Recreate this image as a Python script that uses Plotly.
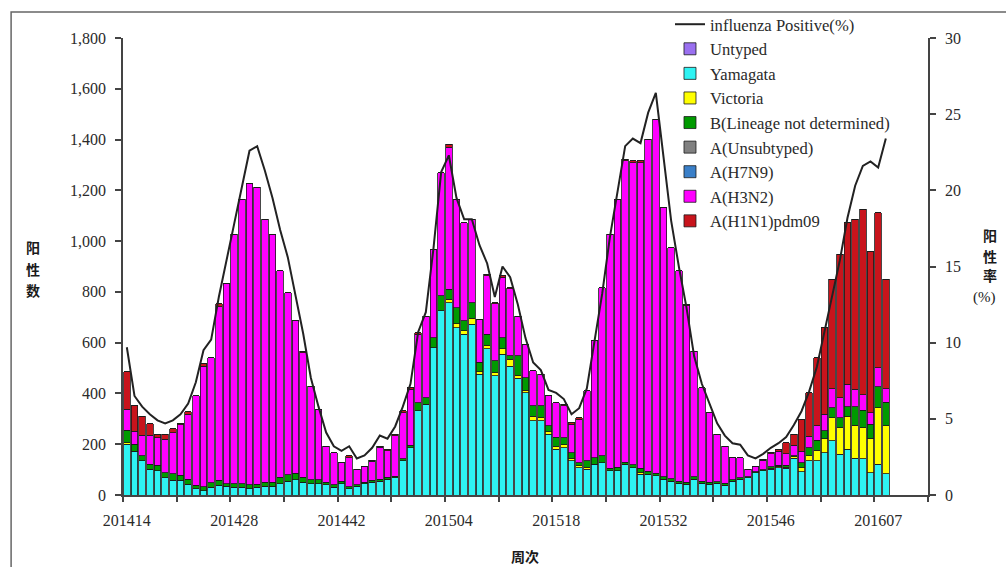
import plotly.graph_objects as go

# ---- data (weeks 201414 .. 201608, axis extends to 201613) ----
def week_labels():
    out = []
    for w in range(14, 53):
        out.append(f"2014{w:02d}")
    for w in range(1, 54):
        out.append(f"2015{w:02d}")
    for w in range(1, 14):
        out.append(f"2016{w:02d}")
    return out

weeks = week_labels()          # 105 categories
n_data = 100                   # weeks with data (201414..201608)

yamagata = [200,173,134,102,95,68,59,59,43,24,16,31,39,35,30,30,25,30,35,35,
            45,55,60,50,45,45,40,30,45,25,35,45,50,55,63,68,134,186,331,357,
            580,725,758,659,633,673,475,576,469,554,508,460,403,292,292,239,180,186,134,108,
            101,121,127,95,95,121,108,82,82,75,63,55,47,43,63,47,43,47,39,55,
            63,67,88,95,101,108,105,145,92,134,134,167,214,160,180,145,142,88,122,83]
victoria = [5,0,0,0,0,0,0,0,0,0,0,0,0,0,0,0,0,0,0,0,
            0,0,0,0,0,0,0,0,0,0,0,0,0,0,0,0,0,0,0,0,
            0,0,14,15,13,24,10,13,13,22,27,12,10,19,14,10,12,12,10,8,
            8,0,0,0,0,0,0,8,0,0,0,0,0,0,0,0,0,0,0,0,
            0,0,0,0,5,5,5,5,16,20,42,55,90,105,131,130,123,135,222,190]
b_nd = [50,27,20,20,23,20,24,19,20,15,17,17,20,10,15,15,15,12,15,15,
        25,25,25,20,15,15,10,10,10,8,6,6,8,8,6,5,8,10,33,26,
        40,59,38,64,40,61,37,44,46,44,13,76,49,40,45,23,36,28,23,11,
        25,25,27,10,15,8,12,15,12,10,8,10,8,8,8,8,8,6,8,5,
        5,5,4,4,5,5,8,5,19,32,40,32,40,39,36,72,69,55,82,92]
a_unsub = [0] * n_data
h7n9 = [0] * n_data
h3n2 = [83,52,82,114,108,132,163,198,256,351,475,493,682,790,983,1120,1185,1170,1036,977,
        813,717,601,490,369,278,143,127,72,113,60,63,74,125,106,160,182,220,270,322,
        348,486,560,427,387,328,170,230,225,238,264,157,132,138,125,118,136,126,112,172,
        276,461,663,922,1055,1187,1189,1204,1307,1395,1061,909,828,694,496,368,273,186,146,87,
        79,29,22,38,52,55,45,40,46,45,56,64,75,79,89,69,60,46,75,54]
h1n1 = [148,99,75,45,14,20,14,6,8,0,8,0,13,0,0,0,0,0,0,0,
        0,0,0,7,0,0,0,0,0,8,0,0,5,5,5,6,7,7,5,0,
        0,0,12,0,0,0,0,7,5,5,5,0,0,0,0,0,0,5,6,6,
        0,0,0,0,0,7,7,7,0,0,0,0,0,6,0,0,0,0,0,0,
        0,0,0,4,5,7,43,44,125,172,269,341,431,565,637,670,732,637,611,431]
untyped = [0] * n_data
positive_pct = [9.7,6.5,5.8,5.3,4.9,4.7,4.9,5.3,6.0,7.4,9.5,10.2,13.0,15.5,17.8,20.2,22.6,22.9,21.3,19.5,
                17.4,15.6,13.0,10.6,7.7,5.8,4.1,3.2,2.9,3.2,2.4,2.6,3.1,3.9,3.7,4.5,5.8,7.3,10.7,12.0,
                16.2,21.2,22.3,19.5,18.1,18.1,16.4,15.2,13.0,15.0,14.3,12.5,10.3,8.7,8.2,6.9,6.7,6.3,5.3,5.7,
                7.0,10.0,13.2,16.9,20.0,22.9,23.4,23.1,25.1,26.4,22.2,18.0,15.0,12.3,9.1,7.3,6.0,4.7,3.9,3.4,
                3.3,2.6,2.4,2.7,3.1,3.4,3.8,4.6,5.5,6.8,8.4,10.8,13.2,15.4,18.2,20.3,21.6,21.9,21.5,23.4]

tick_labels = ["201414", "201428", "201442", "201504", "201518", "201532", "201546", "201607"]

# ---- figure ----
x_idx = list(range(n_data))
tick_idx = [weeks.index(t) for t in tick_labels]

series = [
    ("Yamagata", yamagata, "#2EF3F3", 3),
    ("Victoria", victoria, "#FFFF00", 4),
    ("B(Lineage not determined)", b_nd, "#009A00", 5),
    ("A(Unsubtyped)", a_unsub, "#808080", 6),
    ("A(H7N9)", h7n9, "#3A7FC8", 7),
    ("A(H3N2)", h3n2, "#FF00FF", 8),
    ("A(H1N1)pdm09", h1n1, "#C8141C", 9),
    ("Untyped", untyped, "#9A70F0", 2),
]

fig = go.Figure()
for name, vals, color, rank in series:
    fig.add_trace(go.Bar(
        x=x_idx, y=vals, name=name, legendrank=rank,
        marker=dict(color=color, line=dict(color="#1a1a1a", width=0.8)),
        yaxis="y",
    ))

fig.add_trace(go.Scatter(
    x=x_idx, y=positive_pct, name="influenza Positive(%)", legendrank=1,
    mode="lines", line=dict(color="#222222", width=2), yaxis="y2",
))

serif = "Liberation Serif, Times New Roman, serif"
cjk = "Noto Sans CJK SC"
txt = "#2a2a2a"

fig.update_layout(
    width=1006, height=567,
    margin=dict(l=123, r=78, t=38, b=72, autoexpand=False),
    paper_bgcolor="white", plot_bgcolor="white",
    barmode="stack", bargap=0.14,
    font=dict(family=serif, size=15, color=txt),
    showlegend=True,
    legend=dict(
        x=0.6795, y=1.068, xanchor="left", yanchor="top",
        bgcolor="rgba(255,255,255,0)", font=dict(family=serif, size=16.6, color=txt),
        traceorder="normal", itemwidth=30,
    ),
    xaxis=dict(
        range=[-0.5, len(weeks) - 0.5],
        tickmode="array", tickvals=tick_idx, ticktext=tick_labels,
        ticks="", showline=True, linecolor="#444444", linewidth=1.5,
        showgrid=False, zeroline=False, automargin=False,
        tickfont=dict(family=serif, size=16, color=txt),
        ticklabelstandoff=10,
        minor=dict(ticks="outside", tickmode="linear", tick0=-0.5, dtick=7,
                   ticklen=5, tickcolor="#444444", tickwidth=1.5, showgrid=False),
    ),
    yaxis=dict(
        range=[0, 1800], dtick=200, tickformat=",d",
        ticks="outside", ticklen=6, tickcolor="#444444", tickwidth=1.5,
        showline=True, linecolor="#444444", linewidth=1.5,
        showgrid=False, zeroline=False, automargin=False,
        tickfont=dict(family=serif, size=16, color=txt),
        ticklabelstandoff=6,
    ),
    yaxis2=dict(
        range=[0, 30], dtick=5, overlaying="y", side="right",
        ticks="outside", ticklen=6, tickcolor="#444444", tickwidth=1.5,
        showline=True, linecolor="#444444", linewidth=1.5,
        showgrid=False, zeroline=False, automargin=False,
        tickfont=dict(family=serif, size=16, color=txt),
        ticklabelstandoff=6,
    ),
)

cjk_font = dict(family=cjk, size=14, color="#1a1a1a", weight="bold")
annotations = []
for ch, yv in zip("阳性数", [0.5417, 0.4956, 0.4496]):
    annotations.append(dict(text=ch, x=-0.1118, y=yv, font=cjk_font))
for ch, yv in zip("阳性率", [0.568, 0.524, 0.482]):
    annotations.append(dict(text=ch, x=1.077, y=yv, font=cjk_font))
annotations.append(dict(text="(%)", x=1.0708, y=0.432,
                        font=dict(family=serif, size=15, color="#1a1a1a")))
annotations.append(dict(text="周次", x=0.4994, y=-0.134, font=cjk_font))
for a in annotations:
    fig.add_annotation(xref="paper", yref="paper", showarrow=False,
                       xanchor="center", yanchor="middle", **a)

fig.add_shape(type="rect", xref="paper", yref="paper",
              x0=-0.139, y0=-0.2, x1=1.11, y1=1.057,
              line=dict(color="#666666", width=1.5), fillcolor="rgba(0,0,0,0)", layer="below")

fig.write_html("out.html")
